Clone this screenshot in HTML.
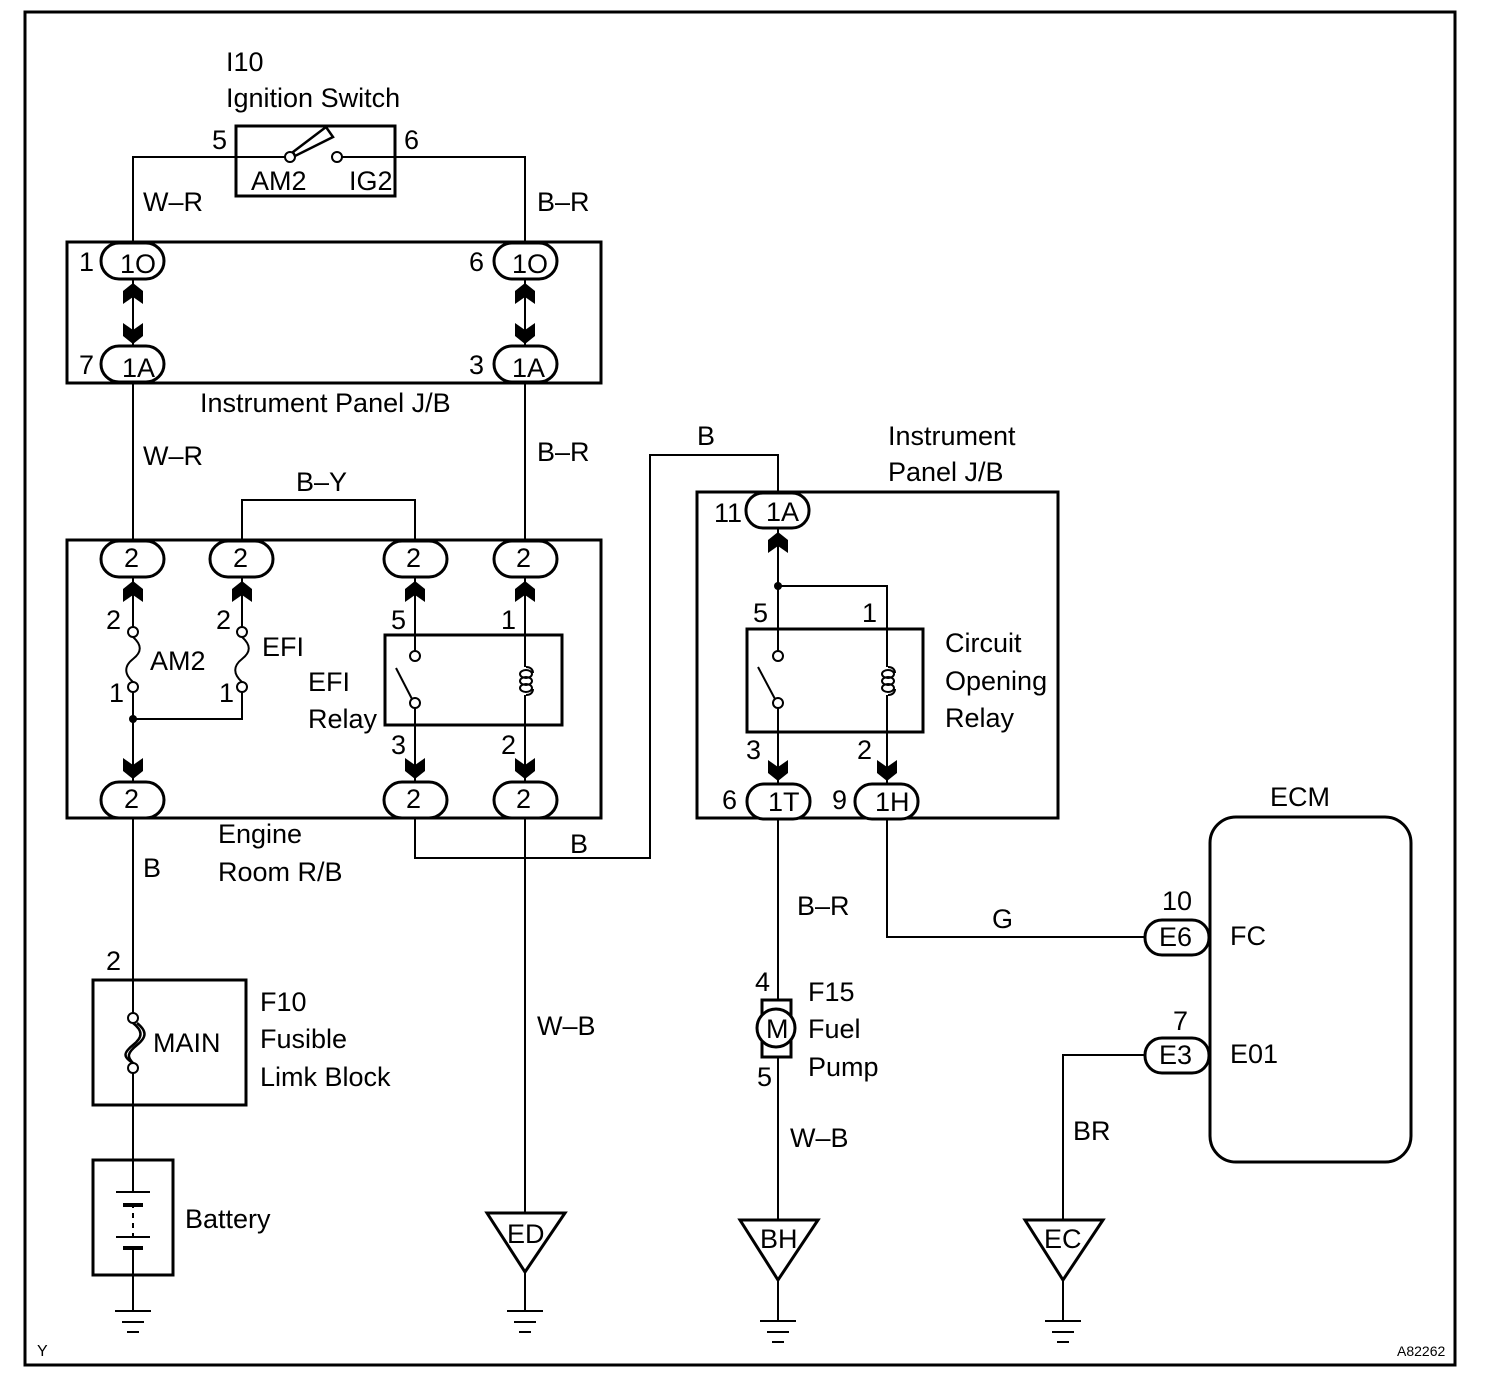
<!DOCTYPE html>
<html><head><meta charset="utf-8"><style>
html,body{margin:0;padding:0;background:#fff;}
svg{display:block;}
text{font-family:"Liberation Sans",Arial,sans-serif;font-size:27px;fill:#000;}
</style></head><body>
<svg width="1504" height="1398" viewBox="0 0 1504 1398" xmlns="http://www.w3.org/2000/svg">
<defs>
<polygon id="au" points="0,0 10,8 10,21 0,14 -10,21 -10,8" fill="#000"/>
<polygon id="ad" points="0,0 10,-8 10,-21 0,-14 -10,-21 -10,-8" fill="#000"/>
<g id="coil" fill="none" stroke="#000" stroke-width="2">
<path d="M0,-14 c5,0 7,3 7,6 M0,14 c5,0 7,-3 7,-6"/>
<ellipse cx="0" cy="-7" rx="6" ry="4"/>
<ellipse cx="0" cy="0" rx="6" ry="4"/>
<ellipse cx="0" cy="7" rx="6" ry="4"/>
</g>
</defs>
<g fill="none" stroke="#000" stroke-width="2">
<rect x="25" y="12" width="1430" height="1353" stroke-width="3"/>
<rect x="236" y="126" width="159" height="70" stroke-width="3"/>
<path d="M133,242 V157 H285 M342,157 H525 V242"/>
<circle cx="290" cy="157" r="5" fill="#fff"/>
<circle cx="337" cy="157" r="5" fill="#fff"/>
<polygon points="293,152 326,127 333,137 295,156" stroke-width="2.5"/>
<rect x="67" y="242" width="534" height="141" stroke-width="3"/>
<path d="M133,278 V345 M525,278 V345 M133,383 V540 M525,383 V540"/>
<rect x="67" y="540" width="534" height="278" stroke-width="3"/>
<path d="M242,540 V500 H415 V540"/>
<path d="M133,577 V627 M242,577 V627 M133,692 V782 M242,692 V719 H133"/>
<circle cx="133" cy="632" r="5" fill="#fff"/><circle cx="133" cy="687" r="5" fill="#fff"/>
<circle cx="242" cy="632" r="5" fill="#fff"/><circle cx="242" cy="687" r="5" fill="#fff"/>
<path d="M133,637 c9,8 9,15 0,22 c-9,7 -9,15 0,23"/>
<path d="M242,637 c9,8 9,15 0,22 c-9,7 -9,15 0,23"/>
<rect x="385" y="635" width="177" height="90" stroke-width="3"/>
<path d="M415,577 V651 M415,708 V782 M525,577 V667 M525,695 V782"/>
<circle cx="415" cy="656" r="5" fill="#fff"/><circle cx="415" cy="703" r="5" fill="#fff"/>
<path d="M412,699 L396,668"/>
<path d="M133,818 V1013 M133,1073 V1310"/>
<rect x="93" y="980" width="153" height="125" stroke-width="3"/>
<circle cx="133" cy="1018" r="5" fill="#fff"/><circle cx="133" cy="1068" r="5" fill="#fff"/>
<path d="M133,1023 c10,8 10,14 0,22 c-10,8 -10,12 0,18 M137,1023 c10,8 10,14 0,22 c-10,8 -10,12 -4,18" stroke-width="2.5"/>
<rect x="93" y="1160" width="80" height="115" stroke-width="3" fill="#fff"/>
<path d="M133,1160 V1192 M133,1247 V1310 M133,1206 V1237" />
<path d="M133,1208 V1235" stroke="#fff" stroke-width="3" stroke-dasharray="5,5"/>
<path d="M116,1192 H150 M116,1237 H150"/>
<path d="M123,1205 H143 M123,1248 H143" stroke-width="4"/>
<path d="M115,1311 H151 M122,1322 H144 M127,1332 H139" />
<path d="M415,818 V858 H650 V455 H778 V492"/>
<path d="M525,818 V1213 M525,1272 V1310"/>
<polygon points="487,1213 565,1213 525,1272" stroke-width="3" fill="#fff"/>
<path d="M507,1311 H543 M514,1322 H536 M519,1332 H531"/>
<rect x="697" y="492" width="361" height="326" stroke-width="3"/>
<path d="M778,529 V651 M778,708 V785 M778,586 H887 V667 M887,695 V785"/>
<rect x="747" y="629" width="176" height="103" stroke-width="3"/>
<circle cx="778" cy="656" r="5" fill="#fff"/><circle cx="778" cy="703" r="5" fill="#fff"/>
<path d="M775,699 L758,667"/>
<path d="M778,820 V1000 M778,1057 V1220 M778,1280 V1320"/>
<rect x="762" y="1000" width="29" height="57" stroke-width="3" fill="#fff"/>
<circle cx="776" cy="1028" r="19" fill="#fff" stroke-width="3"/>
<polygon points="740,1220 818,1220 778,1280" stroke-width="3" fill="#fff"/>
<path d="M760,1321 H796 M767,1332 H789 M772,1342 H784"/>
<path d="M887,820 V937 H1145"/>
<rect x="1210" y="817" width="201" height="345" rx="26" ry="26" stroke-width="3"/>
<path d="M1145,1055 H1063 V1220 M1063,1280 V1320"/>
<polygon points="1025,1220 1103,1220 1063,1280" stroke-width="3" fill="#fff"/>
<path d="M1045,1321 H1081 M1052,1332 H1074 M1057,1342 H1069"/>
</g>
<use href="#coil" x="526" y="681"/>
<use href="#coil" x="888" y="681"/>
<circle cx="133" cy="719" r="4" fill="#000"/>
<circle cx="778" cy="586" r="4" fill="#000"/>
<use href="#au" x="133" y="283"/><use href="#ad" x="133" y="344"/>
<use href="#au" x="525" y="283"/><use href="#ad" x="525" y="344"/>
<use href="#au" x="133" y="581"/><use href="#au" x="242" y="581"/><use href="#au" x="415" y="581"/><use href="#au" x="525" y="581"/>
<use href="#ad" x="133" y="779"/><use href="#ad" x="415" y="779"/><use href="#ad" x="525" y="779"/>
<use href="#au" x="778" y="532"/>
<use href="#ad" x="778" y="781"/><use href="#ad" x="887" y="781"/>
<g fill="#fff" stroke="#000" stroke-width="3">
<rect x="101" y="243" width="63" height="36" rx="18"/>
<rect x="101" y="346" width="63" height="36" rx="18"/>
<rect x="494" y="243" width="63" height="36" rx="18"/>
<rect x="494" y="346" width="63" height="36" rx="18"/>
<rect x="101" y="541" width="63" height="36" rx="18"/>
<rect x="210" y="541" width="63" height="36" rx="18"/>
<rect x="384" y="541" width="63" height="36" rx="18"/>
<rect x="494" y="541" width="63" height="36" rx="18"/>
<rect x="101" y="782" width="63" height="36" rx="18"/>
<rect x="384" y="782" width="63" height="36" rx="18"/>
<rect x="494" y="782" width="63" height="36" rx="18"/>
<rect x="746" y="493" width="63" height="35" rx="17"/>
<rect x="747" y="784" width="63" height="35" rx="17"/>
<rect x="855" y="784" width="63" height="35" rx="17"/>
<rect x="1145" y="920" width="64" height="35" rx="17"/>
<rect x="1145" y="1038" width="64" height="35" rx="17"/>
</g>
<text x="226" y="71">I10</text>
<text x="226" y="107">Ignition Switch</text>
<text x="212" y="149">5</text><text x="404" y="149">6</text>
<text x="251" y="190">AM2</text><text x="349" y="190">IG2</text>
<text x="143" y="211">W–R</text><text x="537" y="211">B–R</text>
<text x="79" y="271">1</text><text x="120" y="273">1O</text>
<text x="469" y="271">6</text><text x="512" y="273">1O</text>
<text x="79" y="374">7</text><text x="122" y="377">1A</text>
<text x="469" y="374">3</text><text x="512" y="377">1A</text>
<text x="200" y="412">Instrument Panel J/B</text>
<text x="143" y="465">W–R</text><text x="537" y="461">B–R</text>
<text x="296" y="491">B–Y</text>
<text x="124" y="567">2</text><text x="233" y="567">2</text><text x="406" y="567">2</text><text x="516" y="567">2</text>
<text x="124" y="808">2</text><text x="406" y="808">2</text><text x="516" y="808">2</text>
<text x="106" y="629">2</text><text x="109" y="702">1</text><text x="150" y="670">AM2</text>
<text x="216" y="629">2</text><text x="219" y="702">1</text><text x="262" y="656">EFI</text>
<text x="308" y="691">EFI</text><text x="308" y="728">Relay</text>
<text x="391" y="629">5</text><text x="501" y="629">1</text>
<text x="391" y="754">3</text><text x="501" y="754">2</text>
<text x="218" y="843">Engine</text><text x="218" y="881">Room R/B</text>
<text x="143" y="877">B</text><text x="570" y="853">B</text><text x="697" y="445">B</text>
<text x="106" y="970">2</text>
<text x="153" y="1052">MAIN</text>
<text x="260" y="1011">F10</text><text x="260" y="1048">Fusible</text><text x="260" y="1086">Limk Block</text>
<text x="185" y="1228">Battery</text>
<text x="537" y="1035">W–B</text>
<text x="507" y="1243">ED</text>
<text x="888" y="445">Instrument</text><text x="888" y="481">Panel J/B</text>
<text x="714" y="522">11</text><text x="766" y="521">1A</text>
<text x="753" y="622">5</text><text x="862" y="622">1</text>
<text x="746" y="759">3</text><text x="857" y="759">2</text>
<text x="722" y="809">6</text><text x="768" y="811">1T</text>
<text x="832" y="809">9</text><text x="875" y="811">1H</text>
<text x="945" y="652">Circuit</text><text x="945" y="690">Opening</text><text x="945" y="727">Relay</text>
<text x="797" y="915">B–R</text>
<text x="755" y="991">4</text><text x="757" y="1086">5</text>
<text x="766" y="1038">M</text>
<text x="808" y="1001">F15</text><text x="808" y="1038">Fuel</text><text x="808" y="1076">Pump</text>
<text x="790" y="1147">W–B</text>
<text x="760" y="1248">BH</text>
<text x="992" y="928">G</text>
<text x="1270" y="806">ECM</text>
<text x="1162" y="910">10</text><text x="1159" y="946">E6</text><text x="1230" y="945">FC</text>
<text x="1173" y="1030">7</text><text x="1159" y="1064">E3</text><text x="1230" y="1063">E01</text>
<text x="1073" y="1140">BR</text>
<text x="1044" y="1248">EC</text>
<text x="37" y="1356" style="font-size:16px">Y</text>
<text x="1397" y="1356" style="font-size:14px">A82262</text>
</svg>
</body></html>
